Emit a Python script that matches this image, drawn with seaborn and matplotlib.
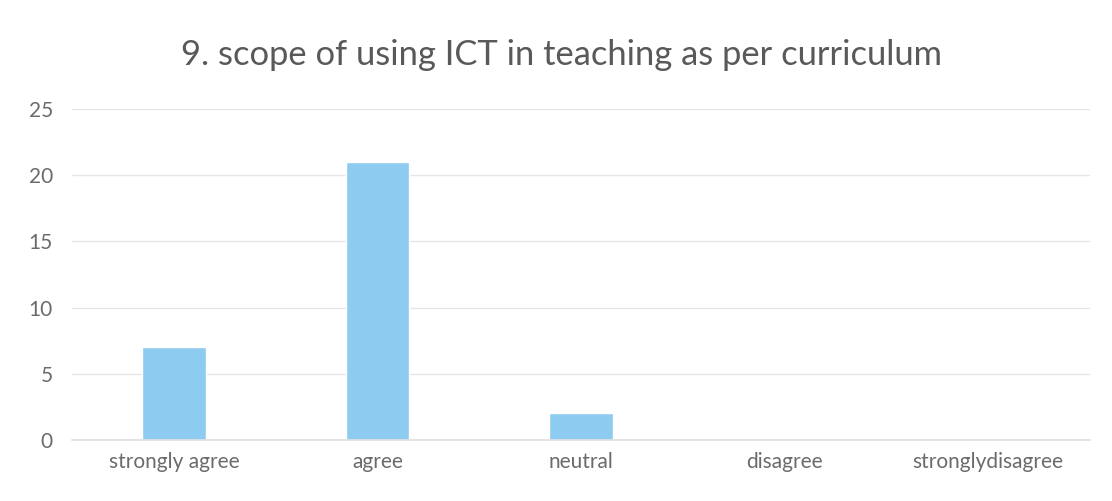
import pandas as pd
import seaborn as sns
import matplotlib.pyplot as plt

# Response counts for question 9
responses = ["strongly agree", "agree", "neutral", "disagree", "stronglydisagree"]
counts = [7, 21, 2, 0, 0]
yticks = [0, 5, 10, 15, 20, 25]

df = pd.DataFrame({"response": responses, "count": counts})

sns.set_theme(style="white")
plt.rcParams["font.family"] = ["Lato", "DejaVu Sans"]

fig = plt.figure(figsize=(11.12, 5.01), dpi=100)
ax = fig.add_axes([0.065, 0.122, 0.915, 0.66])

sns.barplot(data=df, x="response", y="count", color="#8DCBF0",
            width=0.31, saturation=1, ax=ax)

ax.set_ylim(0, 25)
ax.set_yticks(yticks)
ax.yaxis.grid(True, color="#e6e6e6", linewidth=1)
ax.set_axisbelow(True)
for side in ["top", "right", "left"]:
    ax.spines[side].set_visible(False)
ax.spines["bottom"].set_color("#e0e0e0")
ax.tick_params(axis="both", length=0, colors="#6b6b6b", labelsize=15)
ax.tick_params(axis="x", pad=9)
ax.tick_params(axis="y", pad=14)
ax.set_xlabel("")
ax.set_ylabel("")

fig.text(0.505, 0.89, "9. scope of using ICT in teaching as per curriculum",
         ha="center", va="center", fontsize=24.8, color="#595959")

plt.savefig("out.png", dpi=100)
